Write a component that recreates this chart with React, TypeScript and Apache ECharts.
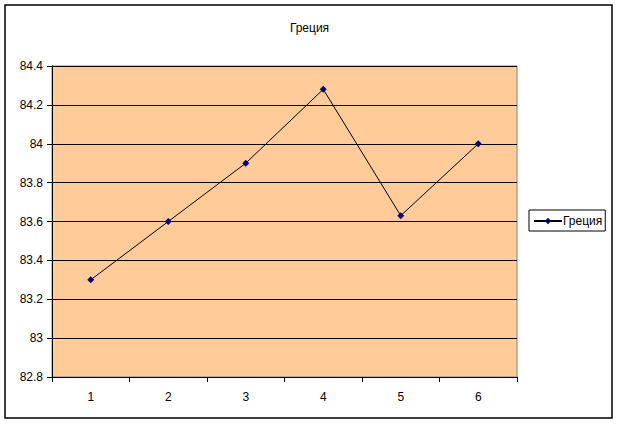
import React, { useEffect, useRef } from "react";
import * as echarts from "echarts";

const categories = ["1", "2", "3", "4", "5", "6"];
const seriesName = "Греция";
const values = [83.3, 83.6, 83.9, 84.28, 83.63, 84.0];
const titleText = "Греция";

export default function App() {
  const ref = useRef<HTMLDivElement>(null);
  useEffect(() => {
    if (!ref.current) return;
    const chart = echarts.init(ref.current, null, { renderer: "svg" });
    const font = "Liberation Sans, Arial, sans-serif";
    chart.setOption({
      animation: false,
      backgroundColor: "#ffffff",
      textStyle: { fontFamily: font },
      title: {
        text: titleText,
        left: "center",
        top: 17,
        textStyle: { fontSize: 12, fontWeight: "normal", color: "#000", fontFamily: font },
      },
      graphic: [
        {
          type: "rect",
          shape: { x: 5, y: 5, width: 607, height: 413 },
          style: { fill: "none", stroke: "#000", lineWidth: 1.5 },
          silent: true,
          z: -10,
        },
      ],
      legend: {
        data: [seriesName],
        left: 529,
        top: 210,
        orient: "vertical",
        borderColor: "#000",
        borderWidth: 1,
        padding: [5, 3, 4, 4],
        itemWidth: 28,
        itemHeight: 8,
        itemGap: 0,
        textStyle: { fontSize: 12, color: "#000", fontFamily: font, padding: [0, 0, 0, -4] },
      },
      grid: {
        left: 52,
        right: 102,
        top: 66,
        bottom: 47,
        show: true,
        backgroundColor: "#FFCC99",
        borderColor: "#808080",
        borderWidth: 1,
      },
      xAxis: {
        type: "category",
        data: categories,
        boundaryGap: true,
        axisLine: { show: true, lineStyle: { color: "#000", width: 1 } },
        axisTick: { show: true, length: 5, alignWithLabel: false, lineStyle: { color: "#000" } },
        axisLabel: { fontSize: 12, color: "#000", margin: 14, fontFamily: font },
        splitLine: { show: false },
      },
      yAxis: {
        type: "value",
        min: 82.8,
        max: 84.4,
        interval: 0.2,
        axisLine: { show: true, lineStyle: { color: "#000", width: 1 } },
        axisTick: { show: true, length: 5, lineStyle: { color: "#000" } },
        axisLabel: { fontSize: 12, color: "#000", margin: 9, fontFamily: font },
        splitLine: { show: true, lineStyle: { color: "#000", width: 1 } },
      },
      series: [
        {
          name: seriesName,
          type: "line",
          data: values,
          color: "#000080",
          symbol: "diamond",
          symbolSize: 7,
          itemStyle: { color: "#000080" },
          lineStyle: { color: "#000", width: 1 },
        },
      ],
    });
    return () => chart.dispose();
  }, []);
  return <div ref={ref} style={{ width: 619, height: 424, position: "absolute", left: 0, top: 0 }} />;
}
